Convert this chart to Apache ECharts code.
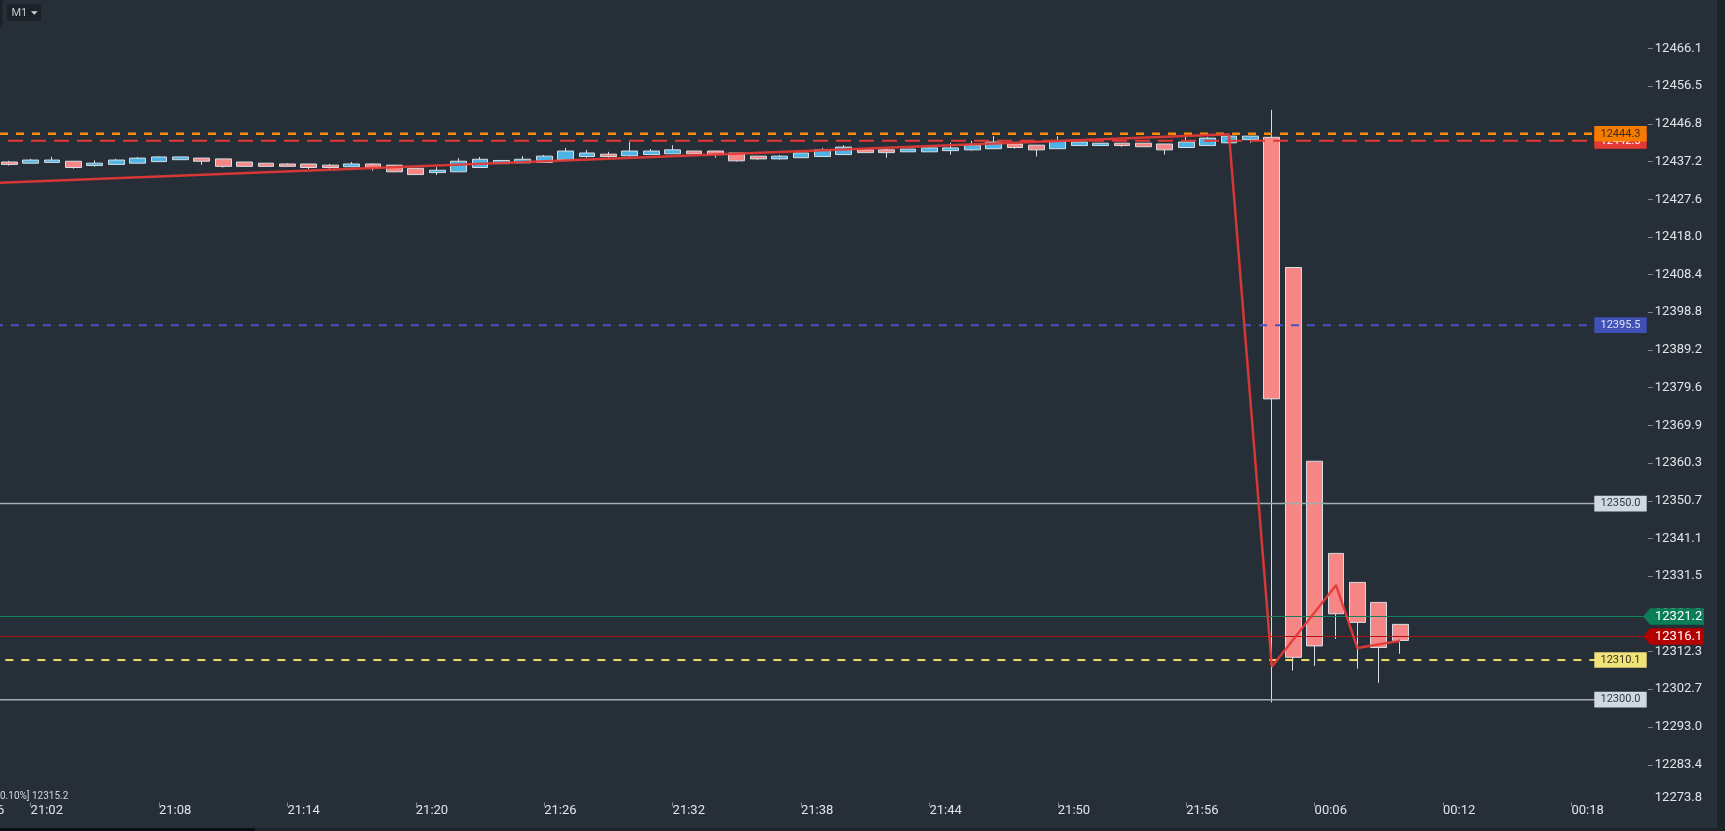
<!DOCTYPE html>
<html>
<head>
<meta charset="utf-8">
<script src="https://cdn.jsdelivr.net/npm/echarts@6/dist/echarts.min.js"></script>
<style>
html,body{margin:0;padding:0;background:#262f37;overflow:hidden;}
#c{width:1725px;height:831px;}
</style>
</head>
<body>
<div id="c"></div>
<script>
// ---------- data ----------
const leadTimes = ['20:56','20:57','20:58','20:59','21:00'];
const candleTimes = [
 '21:01','21:02','21:03','21:04','21:05','21:06','21:07','21:08','21:09','21:10',
 '21:11','21:12','21:13','21:14','21:15','21:16','21:17','21:18','21:19','21:20',
 '21:21','21:22','21:23','21:24','21:25','21:26','21:27','21:28','21:29','21:30',
 '21:31','21:32','21:33','21:34','21:35','21:36','21:37','21:38','21:39','21:40',
 '21:41','21:42','21:43','21:44','21:45','21:46','21:47','21:48','21:49','21:50',
 '21:51','21:52','21:53','21:54','21:55','21:56','21:57','21:58','21:59',
 '00:04','00:05','00:06','00:07','00:08','00:09','00:10'];
const tailTimes = ['00:11','00:12','00:13','00:14','00:15','00:16','00:17','00:18','00:19','00:20','00:21'];

const opens = [
 12437.1,12436.8,12437.0,12437.3,12436.2,12436.5,12436.8,12437.2,12437.7,12438.1,
 12437.9,12437.1,12436.8,12436.6,12436.6,12436.3,12435.9,12436.6,12436.3,12435.5,
 12434.4,12434.6,12435.7,12436.7,12436.9,12437.0,12437.7,12438.5,12439.1,12438.7,
 12439.0,12439.2,12439.9,12439.9,12439.4,12438.6,12437.9,12438.2,12438.5,12439.0,
 12440.2,12440.2,12439.7,12439.7,12440.0,12440.2,12440.5,12441.7,12441.4,12440.5,
 12441.3,12441.3,12441.9,12441.9,12441.7,12440.8,12441.3,12442.0,12442.8,
 12443.4,12410.2,12360.8,12337.3,12329.9,12324.8,12319.2];
const closes = [
 12436.5,12437.6,12437.6,12435.7,12436.8,12437.6,12438.1,12438.4,12438.4,12437.3,
 12436.0,12436.0,12436.0,12436.0,12435.7,12435.7,12436.6,12435.7,12434.6,12433.9,
 12435.0,12437.3,12437.8,12437.5,12437.8,12438.6,12439.9,12439.4,12438.5,12439.9,
 12439.9,12440.2,12439.2,12439.0,12437.4,12437.9,12438.6,12439.4,12440.2,12440.9,
 12439.5,12439.5,12440.4,12440.7,12440.7,12441.4,12442.2,12440.8,12440.2,12442.5,
 12442.2,12441.9,12441.3,12441.0,12440.2,12442.2,12443.2,12443.7,12443.7,
 12376.7,12310.8,12313.7,12321.9,12319.7,12313.3,12315.1];
const lows = [
 12436.2,12436.8,12437.0,12435.4,12435.9,12436.5,12436.8,12437.2,12437.7,12436.4,
 12435.7,12436.0,12436.0,12436.0,12435.3,12435.3,12435.9,12434.9,12434.6,12433.9,
 12433.8,12434.6,12435.7,12436.7,12436.9,12437.0,12437.7,12438.2,12438.2,12438.5,
 12439.0,12439.2,12439.2,12438.2,12437.2,12437.7,12437.7,12438.2,12438.5,12439.0,
 12439.5,12438.2,12439.7,12439.7,12439.0,12440.0,12440.5,12440.5,12438.5,12440.5,
 12441.3,12441.3,12441.0,12441.0,12439.0,12440.8,12441.3,12442.0,12442.0,
 12299.3,12307.4,12308.6,12315.5,12307.9,12304.3,12311.7];
const highs = [
 12437.4,12437.9,12438.4,12437.3,12437.5,12437.9,12438.4,12438.6,12438.4,12438.1,
 12437.9,12437.1,12436.8,12436.8,12436.6,12436.6,12437.1,12436.8,12436.3,12435.5,
 12435.8,12438.1,12438.4,12437.5,12438.6,12438.9,12440.7,12440.2,12439.7,12442.2,
 12440.4,12441.4,12439.9,12439.9,12439.4,12438.6,12438.9,12439.4,12440.7,12441.4,
 12440.5,12440.5,12440.4,12440.9,12442.0,12442.5,12443.7,12441.7,12441.4,12443.7,
 12442.2,12441.9,12441.9,12441.9,12441.7,12443.5,12443.5,12444.0,12443.7,
 12450.4,12410.2,12360.8,12337.3,12329.9,12324.8,12319.2];

const zigzagTimes  = ['20:56','21:58','00:04','00:07','00:08','00:10'];
const zigzagValues = [12430.8, 12444.2, 12308.4, 12329.2, 12313.2, 12315.0];

const levelValues = [12442.5, 12444.3, 12395.5, 12350.0, 12321.2, 12316.1, 12310.1, 12300.0];

const yTickLabels = ['12273.8','12283.4','12293.0','12302.7','12312.3','12321.9','12331.5',
 '12341.1','12350.7','12360.3','12369.9','12379.6','12389.2','12398.8','12408.4','12418.0',
 '12427.6','12437.2','12446.8','12456.5','12466.1'];

const timeframeLabel = 'M1';
const footerText = '0.10%] 12315.2';
const edgeText = '6';

// ---------- styles (not data) ----------
const levelStyles = [
 {line:'#e53935', width:2,   dash:[15,8], off:15,   kind:'box', fill:'#e53935', text:'#ffffff'},
 {line:'#ff8c00', width:2.5, dash:[8,8],  off:0,    kind:'box', fill:'#f57c00', text:'#3b2a12'},
 {line:'#4453c0', width:2,   dash:[8,8],  off:5,    kind:'box', fill:'#3f51b5', text:'#dde2f6'},
 {line:'#a3acb3', width:1.5, dash:null,   off:0,    kind:'box', fill:'#d0d9df', text:'#2e3a43'},
 {line:'#11845d', width:1,   dash:null,   off:0,    kind:'tag', fill:'#0b7d57', text:'#ffffff'},
 {line:'#a51515', width:1,   dash:null,   off:0,    kind:'tag', fill:'#b30000', text:'#ffffff'},
 {line:'#f1e267', width:2,   dash:[8,8],  off:10.7, kind:'box', fill:'#f1e27a', text:'#39341c'},
 {line:'#a3acb3', width:1.5, dash:null,   off:0,    kind:'box', fill:'#d0d9df', text:'#2e3a43'}
];

// ---------- build ----------
const categories = leadTimes.concat(candleTimes, tailTimes);
const candleData = leadTimes.map(() => ['-','-','-','-']).concat(
  candleTimes.map((t, i) => [opens[i], closes[i], lows[i], highs[i]]));
const zigzagData = categories.map(t => {
  const k = zigzagTimes.indexOf(t);
  return k >= 0 ? zigzagValues[k] : '-';
});
const yTickValues = yTickLabels.map(Number);
const yMin = yTickValues[0], yMax = yTickValues[yTickValues.length - 1];
const labelColor = '#dfe4e8';
const FONT = 'Roboto';

const chart = echarts.init(document.getElementById('c'), null, {renderer: 'canvas'});

chart.setOption({
  backgroundColor: '#262f37',
  animation: false,
  grid: {left: -108.5, right: 78.7, top: 48.3, bottom: 28.6, containLabel: false, outerBoundsMode: 'none'},
  xAxis: {
    type: 'category',
    data: categories,
    boundaryGap: true,
    axisLine: {show: false},
    axisTick: {show: true, length: 4, alignWithLabel: true, lineStyle: {color: '#7b8790'},
      interval: (i) => (i - 6) % 6 === 0},
    axisLabel: {color: labelColor, fontSize: 13, fontFamily: FONT, align: 'left', margin: 2,
      interval: (i) => (i - 6) % 6 === 0},
    splitLine: {show: false}
  },
  yAxis: {
    type: 'value',
    position: 'right',
    offset: 1.5,
    min: yMin,
    max: yMax,
    scale: true,
    axisLine: {show: false},
    splitLine: {show: false},
    axisTick: {show: true, length: 5, lineStyle: {color: '#7b8790'}, customValues: yTickValues.slice(1)},
    axisLabel: {
      color: labelColor, fontSize: 13, fontFamily: FONT, margin: 7,
      customValues: yTickValues,
      formatter: function (v) {
        let k = 0, best = 1e9;
        yTickValues.forEach((t, i) => { const d = Math.abs(t - v); if (d < best) { best = d; k = i; } });
        return k === 0 ? '{low|' + yTickLabels[k] + '}' : yTickLabels[k];
      },
      rich: {low: {color: labelColor, fontSize: 13, fontFamily: FONT, padding: [0, 0, 9, 0]}}
    }
  },
  series: [
    {
      type: 'candlestick',
      data: candleData,
      barWidth: 16.4,
      z: 2,
      itemStyle: {
        color: '#4db5e6', color0: '#f78787',
        borderColor: '#d6dde3', borderColor0: '#d6dde3', borderColorDoji: '#d6dde3',
        borderWidth: 1
      }
    },
    {
      type: 'custom',
      z: 3,
      clip: false,
      data: levelValues.map(v => [0, v]),
      encode: {x: 0, y: 1},
      renderItem: function (params, api) {
        const i = params.dataIndex;
        const st = levelStyles[i];
        const y = api.coord([0, api.value(1)])[1];
        const cs = params.coordSys;
        const xL = Math.max(cs.x, 0);
        const lineEnd = st.kind === 'tag' ? 1644 : 1596;
        const txt = levelValues[i].toFixed(1);
        const children = [{
          type: 'line', z2: 1,
          shape: {x1: xL, y1: y, x2: lineEnd, y2: y},
          style: {stroke: st.line, lineWidth: st.width, lineDash: st.dash || null, lineDashOffset: st.off}
        }];
        if (st.kind === 'box') {
          children.push({type: 'rect', z2: 10 + 2 * i,
            shape: {x: 1594.3, y: y - 7.8, width: 52.4, height: 15.6},
            style: {fill: st.fill}});
          children.push({type: 'text', z2: 11 + 2 * i, x: 1620.5, y: y,
            style: {text: txt, fill: st.text, fontSize: 11, fontFamily: FONT,
              align: 'center', verticalAlign: 'middle', textAlign: 'center', textVerticalAlign: 'middle'}});
        } else {
          children.push({type: 'polygon', z2: 10 + 2 * i,
            shape: {points: [[1643.3, y], [1650, y - 8.35], [1704, y - 8.35], [1704, y + 8.35], [1650, y + 8.35]]},
            style: {fill: st.fill}});
          children.push({type: 'text', z2: 11 + 2 * i, x: 1655, y: y,
            style: {text: txt, fill: st.text, fontSize: 13, fontFamily: FONT,
              align: 'left', verticalAlign: 'middle', textAlign: 'left', textVerticalAlign: 'middle'}});
        }
        return {type: 'group', children: children};
      }
    },
    {
      type: 'line',
      z: 4,
      data: zigzagData,
      connectNulls: true,
      symbol: 'none',
      lineStyle: {color: '#e53935', width: 2.5, opacity: 0.92},
      silent: true
    }
  ],
  graphic: [
    {type: 'rect', shape: {x: 1717, y: 0, width: 8, height: 831}, style: {fill: '#1d2429'}, z: 100},
    {type: 'rect', shape: {x: 0, y: 828, width: 255, height: 3}, style: {fill: '#0c0f12'}, z: 100},
    {type: 'rect', shape: {x: 255, y: 828, width: 1462, height: 3}, style: {fill: '#1d2429'}, z: 100},
    {type: 'rect', shape: {x: 0, y: 0, width: 2.5, height: 27}, style: {fill: '#1b2228'}, z: 100},
    {type: 'rect', shape: {x: 7, y: 4, width: 34, height: 17, r: 2}, style: {fill: '#1b2228'}, z: 100},
    {type: 'text', x: 11.5, y: 12.8, z: 101,
      style: {text: timeframeLabel, fill: '#c3c9ce', fontSize: 11, fontFamily: FONT,
        align: 'left', verticalAlign: 'middle', textAlign: 'left', textVerticalAlign: 'middle'}},
    {type: 'polygon', z: 101, shape: {points: [[31, 11.3], [37.6, 11.3], [34.3, 14.8]]}, style: {fill: '#d5d9dc'}},
    {type: 'text', x: -3, y: 811, z: 101,
      style: {text: edgeText, fill: labelColor, fontSize: 13, fontFamily: FONT,
        align: 'left', verticalAlign: 'middle', textAlign: 'left', textVerticalAlign: 'middle'}},
    {type: 'text', x: 0, y: 796, z: 101,
      style: {text: footerText, fill: '#cfd6db', fontSize: 10, fontFamily: FONT,
        align: 'left', verticalAlign: 'middle', textAlign: 'left', textVerticalAlign: 'middle'}}
  ]
});
</script>
</body>
</html>
